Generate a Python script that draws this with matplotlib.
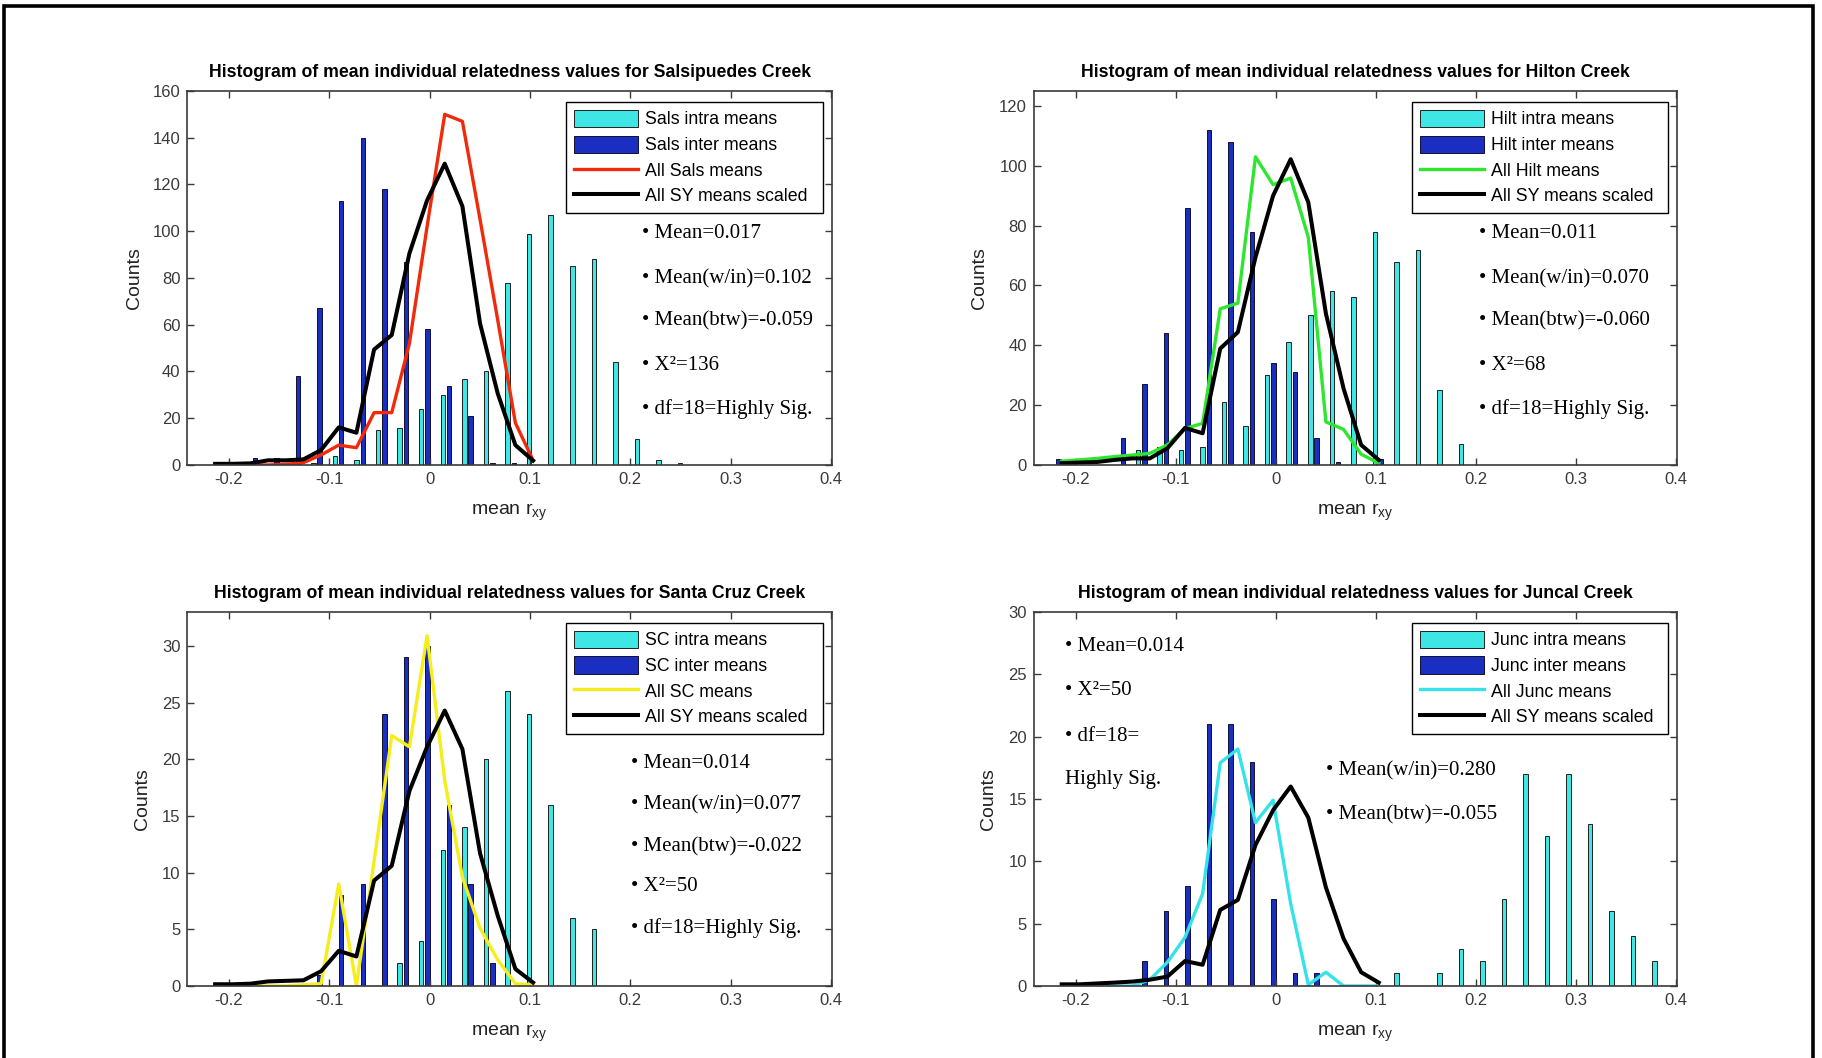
import numpy as np
import matplotlib
matplotlib.use("Agg")
import matplotlib.pyplot as plt
from matplotlib.patches import Rectangle

plt.rcParams["font.family"] = ["Liberation Sans", "DejaVu Sans"]
plt.rcParams["mathtext.fontset"] = "custom"
plt.rcParams["mathtext.rm"] = "Liberation Sans"
plt.rcParams["mathtext.it"] = "Liberation Sans"

# histogram bin centres (mean r_xy) used by the bars
bin_centers = [-0.2203, -0.1988, -0.1773, -0.1558, -0.1343, -0.1128, -0.0913, -0.0698,
               -0.0483, -0.0268, -0.0053, 0.0162, 0.0377, 0.0592, 0.0807, 0.1022,
               0.1237, 0.1452, 0.1667, 0.1882, 0.2097, 0.2312, 0.2527, 0.2742,
               0.2957, 0.3172, 0.3387, 0.3602, 0.3817]

# bin centres used by the "all means" curves
line_x = [-0.2138, -0.1962, -0.1786, -0.1610, -0.1434, -0.1258, -0.1082, -0.0906,
          -0.0730, -0.0554, -0.0378, -0.0202, -0.0026, 0.0150, 0.0326, 0.0502,
          0.0678, 0.0854, 0.1030]

# Salsipuedes
sals_intra = [0, 0, 0, 0, 0, 1, 4, 2, 15, 16, 24, 30, 37, 40, 78, 99, 107, 85, 88, 44,
              11, 2, 1, 0, 0, 0, 0, 0, 0]
sals_inter = [0, 0, 3, 3, 38, 67, 113, 140, 118, 87, 58, 34, 21, 1, 1, 0, 0, 0, 0, 0,
              0, 0, 0, 0, 0, 0, 0, 0, 0]
sals_all = [0, 0, 0, 0, 0.3, 1, 4.3, 8.5, 7.4, 22.4, 22.4, 52, 102, 150, 147, 105, 62, 18, 2]
sals_sy = [0.5, 0.5, 0.7, 2, 2, 2.4, 6.4, 16.1, 13.8, 49.4, 55.6, 90.5, 113.2, 128.9,
           110.7, 60.5, 30.6, 8.5, 1.9]

# Hilton
hilt_intra = [0, 2, 0, 0, 5, 6, 5, 6, 21, 13, 30, 41, 50, 58, 56, 78, 68, 72, 25, 7,
              0, 0, 0, 0, 0, 0, 0, 0, 0]
hilt_inter = [2, 0, 0, 9, 27, 44, 86, 112, 108, 78, 34, 31, 9, 1, 0, 2, 0, 0, 0, 0,
              0, 0, 0, 0, 0, 0, 0, 0, 0]
hilt_all = [1.3, 1.7, 2.2, 2.8, 3.3, 3.9, 6.7, 12.2, 13.9, 52.2, 54.1, 103, 93.7, 95.9,
            76.1, 14.4, 11.9, 3.6, 0.6]
hilt_sy = [0.6, 0.8, 1, 1.7, 2.2, 2.2, 5.6, 12.4, 10.6, 38.9, 44.4, 69.4, 90, 102.2,
           87.8, 50.6, 25.6, 6.7, 1.7]

# Santa Cruz
sc_intra = [0, 0, 0, 0, 0, 0, 0, 0, 0, 2, 4, 12, 14, 20, 26, 24, 16, 6, 5, 0,
            0, 0, 0, 0, 0, 0, 0, 0, 0]
sc_inter = [0, 0, 0, 0, 0, 1, 8, 9, 24, 29, 30, 16, 9, 2, 0, 0, 0, 0, 0, 0,
            0, 0, 0, 0, 0, 0, 0, 0, 0]
sc_all = [0, 0, 0, 0, 0, 0.1, 0.2, 9.0, 0, 11, 22.1, 21.1, 30.9, 18.1, 9.6, 5.1, 2.3, 0.2, 0.1]
sc_sy = [0.15, 0.15, 0.2, 0.4, 0.45, 0.5, 1.3, 3.1, 2.6, 9.3, 10.6, 17.2, 21.1, 24.3,
         20.9, 11.7, 6.2, 1.5, 0.3]

# Juncal
junc_intra = [0, 0, 0, 0, 0, 0, 0, 0, 0, 0, 0, 0, 0, 0, 0, 0, 1, 0, 1, 3,
              2, 7, 17, 12, 17, 13, 6, 4, 2]
junc_inter = [0, 0, 0, 0, 2, 6, 8, 21, 21, 18, 7, 1, 1, 0, 0, 0, 0, 0, 0, 0,
              0, 0, 0, 0, 0, 0, 0, 0, 0]
junc_all = [0, 0, 0, 0, 0, 0.5, 1.9, 3.9, 7.4, 17.9, 19.0, 13.1, 14.9, 6.6, 0.1, 1.1, 0, 0, 0]
junc_sy = [0.13, 0.13, 0.2, 0.27, 0.35, 0.5, 0.75, 2.0, 1.7, 6.1, 6.9, 11.3, 14.1, 16,
           13.5, 7.9, 3.8, 1.1, 0.27]

CYAN = "#3fe6e6"
BLUE = "#1a2fc2"
AXC = "#3a3a3a"

fig = plt.figure(figsize=(18.22, 10.58), dpi=100)
fig.patch.set_facecolor("white")


def panel(rect, creek, site, intra, inter, all_means, sy, col, ymax, ystep, ylab_x, notes):
    ax = fig.add_axes(rect)
    x = np.array(bin_centers)
    ax.bar(x - 0.00315, intra, width=0.0045, color=CYAN, edgecolor="#202020",
           linewidth=0.7, label=site + " intra means")
    ax.bar(x + 0.00315, inter, width=0.0045, color=BLUE, edgecolor="#101030",
           linewidth=0.7, label=site + " inter means")
    ax.plot(line_x, all_means, color=col, lw=2.4, label="All " + site + " means")
    ax.plot(line_x, sy, color="black", lw=2.9, label="All SY means scaled")

    ax.set_xlim(-0.2415, 0.4006)
    ax.set_ylim(0, ymax)
    ax.set_xticks([-0.2, -0.1, 0, 0.1, 0.2, 0.3, 0.4])
    ax.set_xticklabels(["-0.2", "-0.1", "0", "0.1", "0.2", "0.3", "0.4"])
    ax.set_yticks(np.arange(0, ymax + 0.1, ystep))
    ax.tick_params(direction="in", top=True, right=True, length=5, width=1,
                   labelsize=12, colors=AXC, pad=5)
    for s in ax.spines.values():
        s.set_color(AXC)
        s.set_linewidth(1.2)

    ax.set_title("Histogram of mean individual relatedness values for " + creek,
                 fontsize=12.7, fontweight="bold", pad=10)
    ax.set_ylabel("Counts", fontsize=14, color="#222222")
    ax.yaxis.set_label_coords(ylab_x, 0.5)
    ax.set_xlabel(r"mean r$_{\mathrm{xy}}$", fontsize=14, color="#222222")
    ax.xaxis.set_label_coords(0.5, -0.098)

    h, l = ax.get_legend_handles_labels()
    order = [2, 3, 0, 1]
    leg = ax.legend([h[i] for i in order], [l[i] for i in order],
                    loc="upper left", bbox_to_anchor=(0.588, 0.0, 0.398, 0.971),
                    mode="expand", borderaxespad=0,
                    fontsize=12.8, fancybox=False, framealpha=1, edgecolor="black",
                    handlelength=3.6, handleheight=1.1, handletextpad=0.4,
                    labelspacing=0.4, borderpad=0.45)
    leg.get_frame().set_linewidth(1.0)

    for fx, fy, s in notes:
        ax.text(fx, fy, s, transform=ax.transAxes, fontfamily="Liberation Serif",
                fontsize=15, va="center", ha="left")
    return ax


ys = [0.6195, 0.499, 0.386, 0.265, 0.149]

panel([0.1028, 0.5605, 0.3537, 0.3535], "Salsipuedes Creek", "Sals",
      sals_intra, sals_inter, sals_all, sals_sy, "#f02a0a", 160, 20, -0.069,
      [(0.705, ys[0], "\u2022 Mean=0.017"), (0.705, ys[1], "\u2022 Mean(w/in)=0.102"),
       (0.705, ys[2], "\u2022 Mean(btw)=-0.059"), (0.705, ys[3], "\u2022 X\u00b2=136"),
       (0.705, ys[4], "\u2022 df=18=Highly Sig.")])

panel([0.5675, 0.5605, 0.3527, 0.3535], "Hilton Creek", "Hilt",
      hilt_intra, hilt_inter, hilt_all, hilt_sy, "#2ee62e", 125, 20, -0.072,
      [(0.692, ys[0], "\u2022 Mean=0.011"), (0.692, ys[1], "\u2022 Mean(w/in)=0.070"),
       (0.692, ys[2], "\u2022 Mean(btw)=-0.060"), (0.692, ys[3], "\u2022 X\u00b2=68"),
       (0.692, ys[4], "\u2022 df=18=Highly Sig.")])

ys3 = [0.595, 0.484, 0.372, 0.267, 0.154]
panel([0.1028, 0.0681, 0.3537, 0.3535], "Santa Cruz Creek", "SC",
      sc_intra, sc_inter, sc_all, sc_sy, "#f5ee1c", 33, 5, -0.056,
      [(0.688, ys3[0], "\u2022 Mean=0.014"), (0.688, ys3[1], "\u2022 Mean(w/in)=0.077"),
       (0.688, ys3[2], "\u2022 Mean(btw)=-0.022"), (0.688, ys3[3], "\u2022 X\u00b2=50"),
       (0.688, ys3[4], "\u2022 df=18=Highly Sig.")])

panel([0.5675, 0.0681, 0.3527, 0.3535], "Juncal Creek", "Junc",
      junc_intra, junc_inter, junc_all, junc_sy, "#35e2ea", 30, 5, -0.058,
      [(0.048, 0.907, "\u2022 Mean=0.014"), (0.048, 0.791, "\u2022 X\u00b2=50"),
       (0.048, 0.668, "\u2022 df=18="), (0.048, 0.551, "Highly Sig."),
       (0.455, 0.576, "\u2022 Mean(w/in)=0.280"), (0.455, 0.457, "\u2022 Mean(btw)=-0.055")])

# outer frame of the slide
fig.add_artist(Rectangle((4 / 1822, -0.05), 1809 / 1822, (1058 - 6) / 1058 + 0.05,
                         transform=fig.transFigure, fill=False, lw=2.6,
                         edgecolor="black", clip_on=False))

fig.savefig("out.png", dpi=100)
